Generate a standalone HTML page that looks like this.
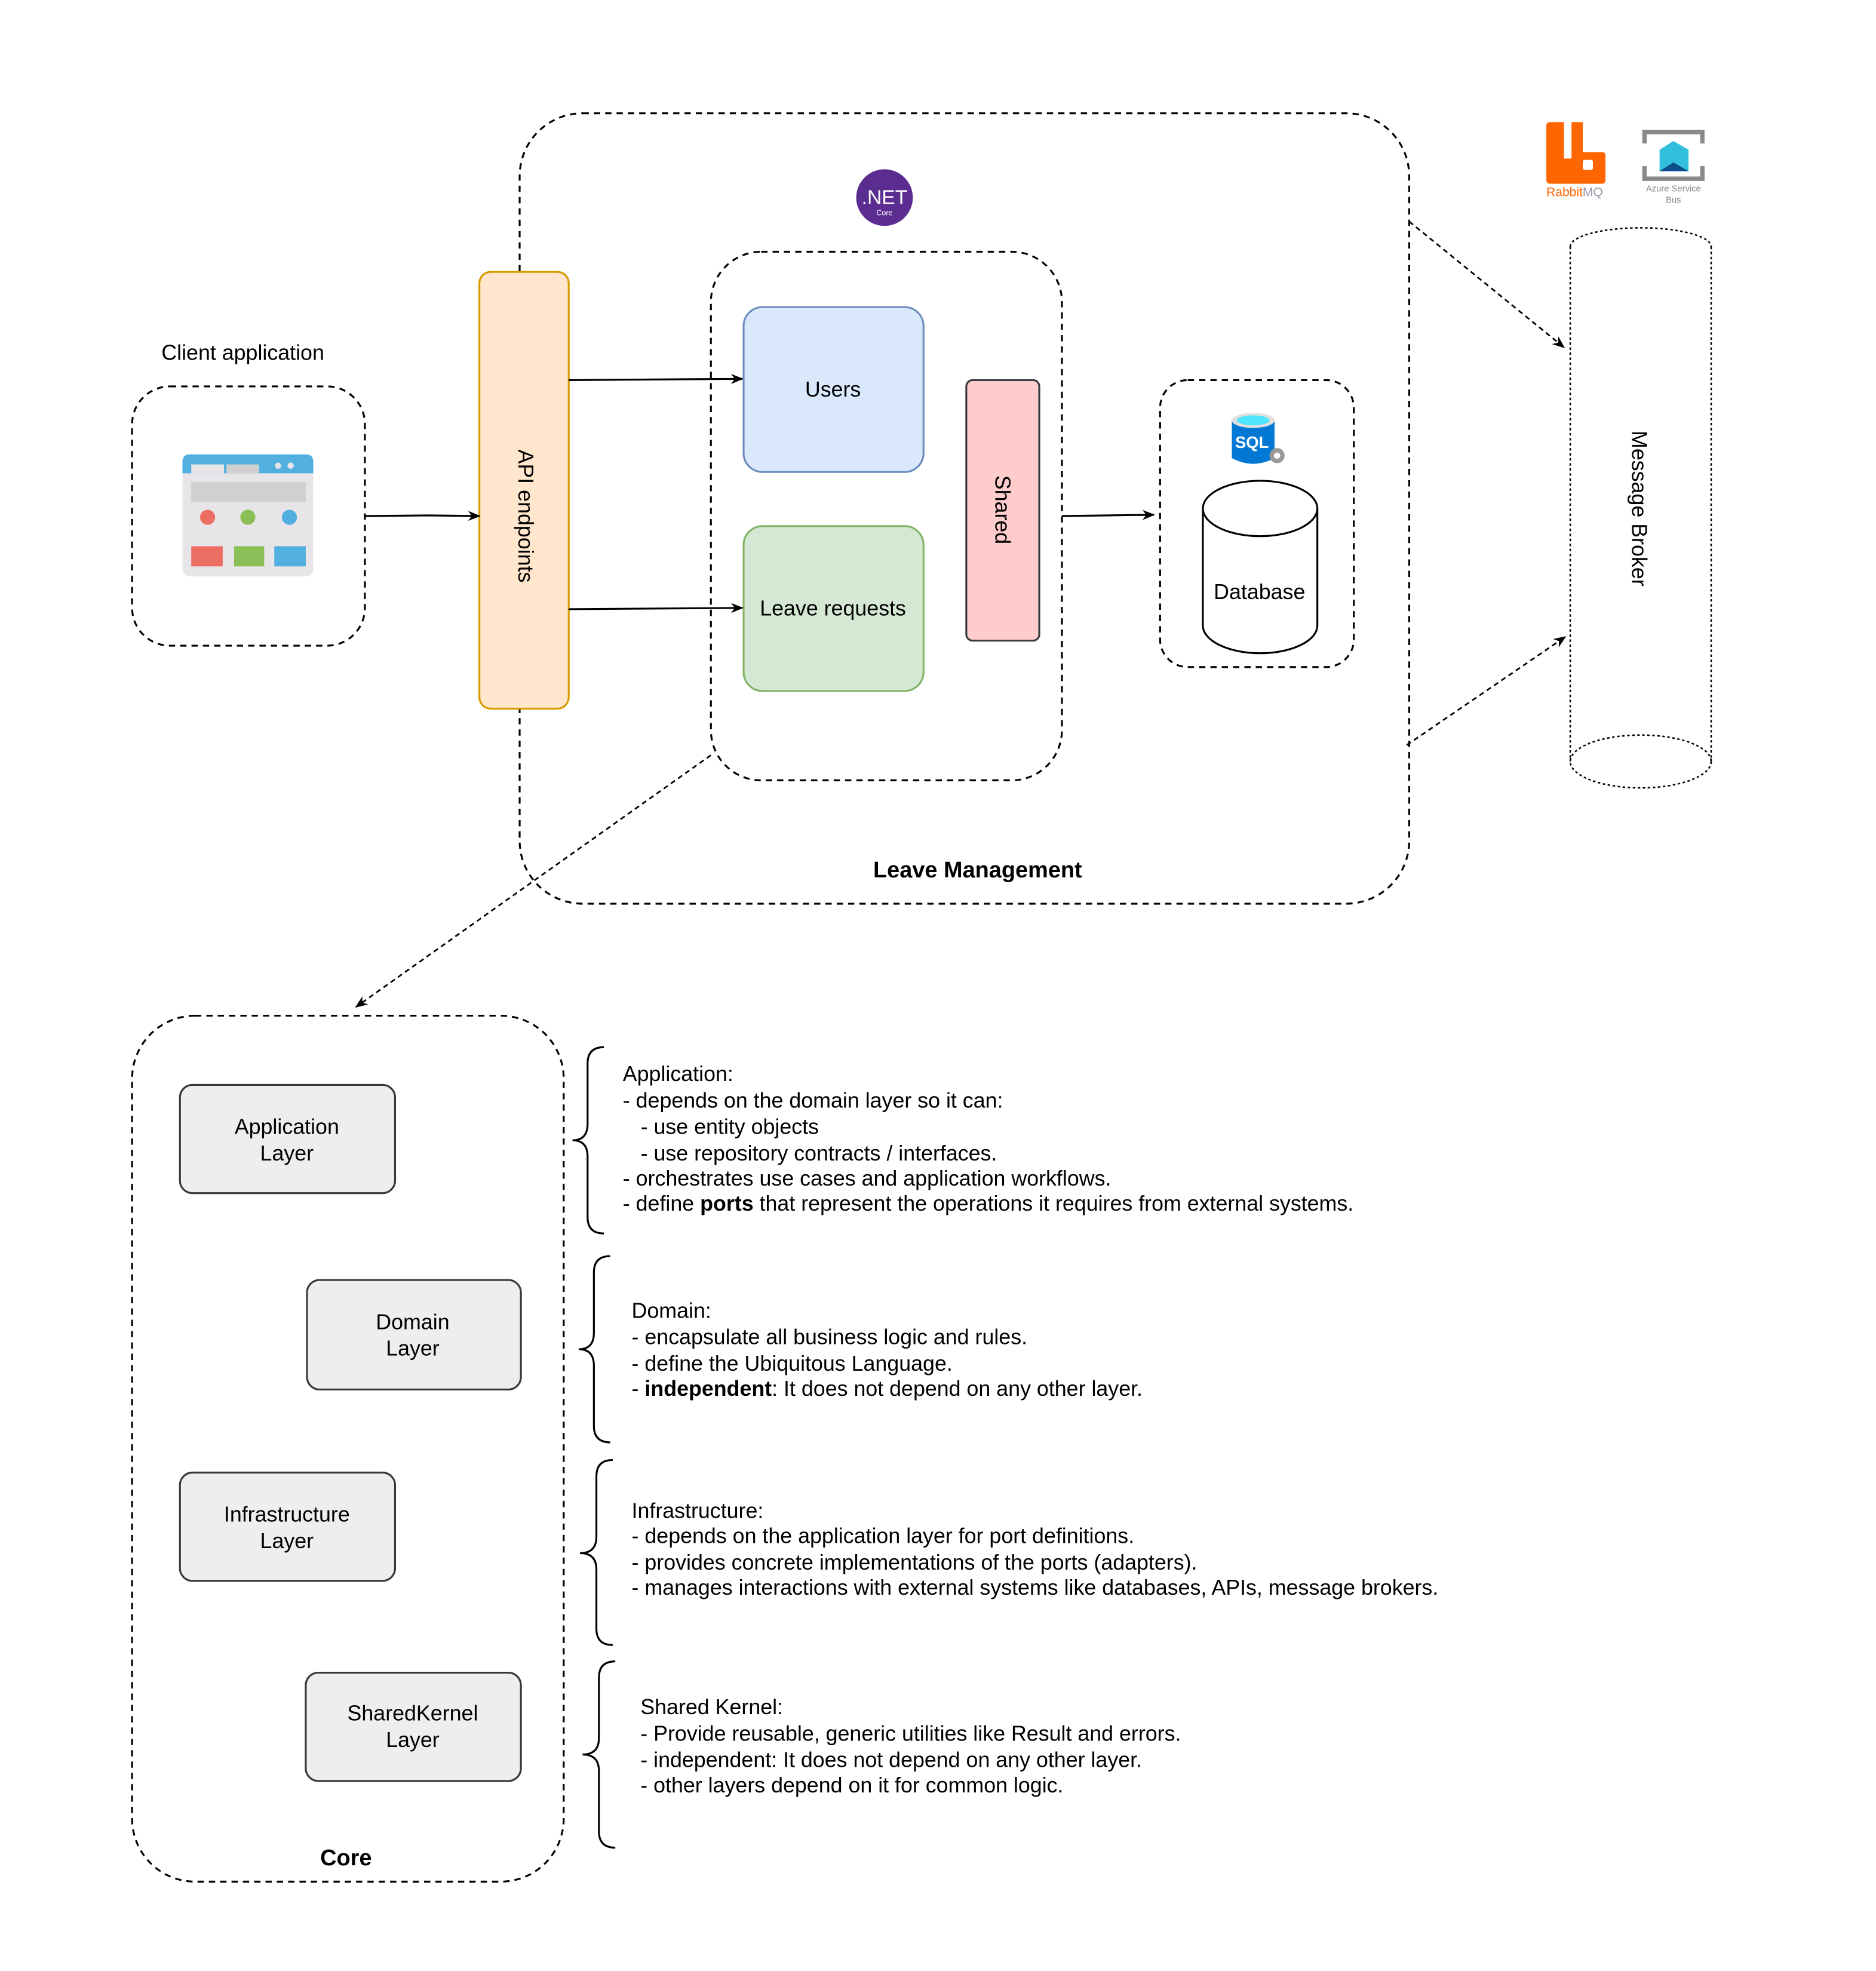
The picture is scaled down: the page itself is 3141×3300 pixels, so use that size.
<!DOCTYPE html>
<html><head><meta charset="utf-8"><style>
html,body{margin:0;padding:0;background:#fff}
svg{display:block}
text{font-family:"Liberation Sans",Arial,sans-serif;fill:#000}
</style></head><body>
<svg width="3141" height="3300" viewBox="0 0 1491 1566" preserveAspectRatio="none" xmlns="http://www.w3.org/2000/svg">
<defs>
<marker id="a" markerWidth="10" markerHeight="10" refX="9" refY="5" orient="auto" markerUnits="userSpaceOnUse"><path d="M0,1 L10,5 L0,9 L3,5 Z" fill="#000"/></marker>
</defs>
<rect width="1491" height="1566" fill="#fff"/>
<!-- Leave Management -->
<rect x="413" y="90" width="707" height="628" rx="50" fill="none" stroke="#000" stroke-width="1.5" stroke-dasharray="5,4"/>
<text x="777" y="697" font-size="18" font-weight="bold" text-anchor="middle">Leave Management</text>
<rect x="565" y="200" width="279" height="420" rx="40" fill="none" stroke="#000" stroke-width="1.5" stroke-dasharray="5,4"/>
<!-- .NET -->
<circle cx="703" cy="157" r="22.5" fill="#5c2d91"/>
<text x="703" y="162" font-size="16" text-anchor="middle" style="fill:#fff">.NET</text>
<text x="703" y="171" font-size="6" text-anchor="middle" style="fill:#fff">Core</text>
<!-- API -->
<rect x="381" y="216" width="71" height="347" rx="9" fill="#ffe6cc" stroke="#d79b00" stroke-width="1.5"/>
<text transform="translate(412,410) rotate(90)" font-size="17" text-anchor="middle">API endpoints</text>
<!-- Users / Leave -->
<rect x="591" y="244" width="143" height="131" rx="15" fill="#dae8fc" stroke="#6c8ebf" stroke-width="1.5"/>
<text x="662" y="315" font-size="17" text-anchor="middle">Users</text>
<rect x="591" y="418" width="143" height="131" rx="15" fill="#d5e8d4" stroke="#82b366" stroke-width="1.5"/>
<text x="662" y="489" font-size="17" text-anchor="middle">Leave requests</text>
<rect x="768" y="302" width="58" height="207" rx="5" fill="#ffcccc" stroke="#36393d" stroke-width="1.5"/>
<text transform="translate(791,405) rotate(90)" font-size="17" text-anchor="middle">Shared</text>
<!-- Client -->
<text x="193" y="286" font-size="17" text-anchor="middle">Client application</text>
<rect x="105" y="307" width="185" height="206" rx="30" fill="none" stroke="#000" stroke-width="1.5" stroke-dasharray="5,4"/>
<rect x="145" y="361" width="104" height="97" rx="6" fill="#e8e5e8"/>
<path d="M145,376 V367 Q145,361 151,361 H243 Q249,361 249,367 V376 Z" fill="#52b0e0"/>
<rect x="152" y="369" width="26" height="7" fill="#e8e5e8"/><rect x="180" y="369" width="26" height="7" fill="#d0d0d0"/>
<circle cx="221" cy="370" r="2.5" fill="#e8e5e8"/><circle cx="231" cy="370" r="2.5" fill="#e8e5e8"/>
<rect x="152" y="383" width="91" height="16" fill="#d0d0d0"/>
<circle cx="165" cy="411" r="6" fill="#ec6e62"/><circle cx="197" cy="411" r="6" fill="#8abe56"/><circle cx="230" cy="411" r="6" fill="#52b0e0"/>
<rect x="152" y="434" width="25" height="16" fill="#ec6e62"/><rect x="186" y="434" width="24" height="16" fill="#8abe56"/><rect x="218" y="434" width="25" height="16" fill="#52b0e0"/>
<!-- Database -->
<rect x="922" y="302" width="154" height="228" rx="22" fill="none" stroke="#000" stroke-width="1.5" stroke-dasharray="5,4"/>
<path d="M956,404 V497 A45.5,22 0 0 0 1047,497 V404" fill="#fff" stroke="#000" stroke-width="1.5"/>
<ellipse cx="1001.5" cy="404" rx="45.5" ry="22" fill="#fff" stroke="#000" stroke-width="1.5"/>
<text x="1001" y="476" font-size="17" text-anchor="middle">Database</text>
<path d="M979,334 V364 Q996,373 1013,364 V334 Z" fill="#0078d4"/>
<ellipse cx="996" cy="334" rx="17" ry="6" fill="#e0e0e0"/><ellipse cx="996" cy="334" rx="13" ry="4" fill="#50e6ff"/>
<text x="995" y="356" font-size="13" font-weight="bold" text-anchor="middle" style="fill:#fff">SQL</text>
<circle cx="1015" cy="362" r="6" fill="#999"/><circle cx="1015" cy="362" r="2.5" fill="#fff"/>
<!-- Message Broker -->
<path d="M1248,196 V605 M1360,196 V605" fill="none" stroke="#000" stroke-width="1.2" stroke-dasharray="2,2"/>
<path d="M1248,196 A56,15 0 0 1 1360,196" fill="none" stroke="#000" stroke-width="1.2" stroke-dasharray="2,2"/>
<ellipse cx="1304" cy="605" rx="56" ry="21" fill="none" stroke="#000" stroke-width="1.2" stroke-dasharray="2,2"/>
<text transform="translate(1297,404) rotate(90)" font-size="17" text-anchor="middle">Message Broker</text>
<!-- RabbitMQ -->
<path d="M1232,97 H1243 V126 H1249 V97 H1258 V121 H1274 Q1276,121 1276,124 V143 Q1276,146 1273,146 H1232 Q1229,146 1229,143 V100 Q1229,97 1232,97 Z" fill="#ff6600"/>
<rect x="1258" y="127" width="8" height="8" rx="1.5" fill="#fff"/>
<text x="1229" y="156" font-size="10" style="fill:#ff6600">Rabbit<tspan style="fill:#99a">MQ</tspan></text>
<!-- Azure SB -->
<path d="M1307,114 V105 H1353 V114 M1307,132 V142 H1353 V132" fill="none" stroke="#8a8a8a" stroke-width="3.5"/>
<path d="M1319,119 L1330,112 L1342,119 V136 H1319 Z" fill="#32bedd"/><path d="M1319,136 L1330,129 L1342,136 Z" fill="#0a4f8c"/>
<text x="1330" y="152" font-size="7" text-anchor="middle" style="fill:#888">Azure Service</text>
<text x="1330" y="161" font-size="7" text-anchor="middle" style="fill:#888">Bus</text>
<!-- Connectors -->
<g stroke="#000" stroke-width="1.5" fill="none">
<path d="M290,410 L340,409.5 L381,410" marker-end="url(#a)"/>
<path d="M452,302 L590,301" marker-end="url(#a)"/>
<path d="M452,484 L590,483" marker-end="url(#a)"/>
<path d="M844,410 L917,409" marker-end="url(#a)"/>
</g>
<g stroke="#000" stroke-width="1.3" fill="none" stroke-dasharray="4,3">
<path d="M1120,176 L1243,276" marker-end="url(#a)"/>
<path d="M1118,592 L1244,506" marker-end="url(#a)"/>
<path d="M565,600 L283,800" marker-end="url(#a)"/>
</g>
<!-- Core -->
<rect x="105" y="807" width="343" height="688" rx="50" fill="none" stroke="#000" stroke-width="1.5" stroke-dasharray="5,4"/>
<text x="275" y="1482" font-size="18" font-weight="bold" text-anchor="middle">Core</text>
<g fill="#eeeeee" stroke="#36393d" stroke-width="1.5">
<rect x="143" y="862" width="171" height="86" rx="10"/>
<rect x="244" y="1017" width="170" height="87" rx="10"/>
<rect x="143" y="1170" width="171" height="86" rx="10"/>
<rect x="243" y="1329" width="171" height="86" rx="10"/>
</g>
<g font-size="17" text-anchor="middle">
<text x="228" y="901">Application</text><text x="228" y="922">Layer</text>
<text x="328" y="1056">Domain</text><text x="328" y="1077">Layer</text>
<text x="228" y="1209">Infrastructure</text><text x="228" y="1230">Layer</text>
<text x="328" y="1367">SharedKernel</text><text x="328" y="1388">Layer</text>
</g>
<!-- Braces -->
<g stroke="#000" stroke-width="1.5" fill="none">
<path d="M480,832 Q467,832 467,845 V893 Q467,906 455,906 Q467,906 467,919 V967 Q467,980 480,980"/>
<path d="M485,998 Q472,998 472,1011 V1059 Q472,1072 460,1072 Q472,1072 472,1085 V1133 Q472,1146 485,1146"/>
<path d="M487,1160 Q474,1160 474,1173 V1221 Q474,1234 461,1234 Q474,1234 474,1247 V1294 Q474,1307 487,1307"/>
<path d="M489,1320 Q476,1320 476,1333 V1381 Q476,1394 463,1394 Q476,1394 476,1407 V1455 Q476,1468 489,1468"/>
</g>
<g font-size="17">
<text x="495" y="859">Application:</text>
<text x="495" y="880">- depends on the domain layer so it can:</text>
<text x="495" y="901">&#160;&#160;&#160;- use entity objects</text>
<text x="495" y="922">&#160;&#160;&#160;- use repository contracts / interfaces.</text>
<text x="495" y="942">- orchestrates use cases and application workflows.</text>
<text x="495" y="962">- define <tspan font-weight="bold">ports</tspan> that represent the operations it requires from external systems.</text>
<text x="502" y="1047">Domain:</text>
<text x="502" y="1068">- encapsulate all business logic and rules.</text>
<text x="502" y="1089">- define the Ubiquitous Language.</text>
<text x="502" y="1109">- <tspan font-weight="bold">independent</tspan>: It does not depend on any other layer.</text>
<text x="502" y="1206">Infrastructure:</text>
<text x="502" y="1226">- depends on the application layer for port definitions.</text>
<text x="502" y="1247">- provides concrete implementations of the ports (adapters).</text>
<text x="502" y="1267">- manages interactions with external systems like databases, APIs, message brokers.</text>
<text x="509" y="1362">Shared Kernel:</text>
<text x="509" y="1383">- Provide reusable, generic utilities like Result and errors.</text>
<text x="509" y="1404">- independent: It does not depend on any other layer.</text>
<text x="509" y="1424">- other layers depend on it for common logic.</text>
</g>
</svg>
</body></html>
